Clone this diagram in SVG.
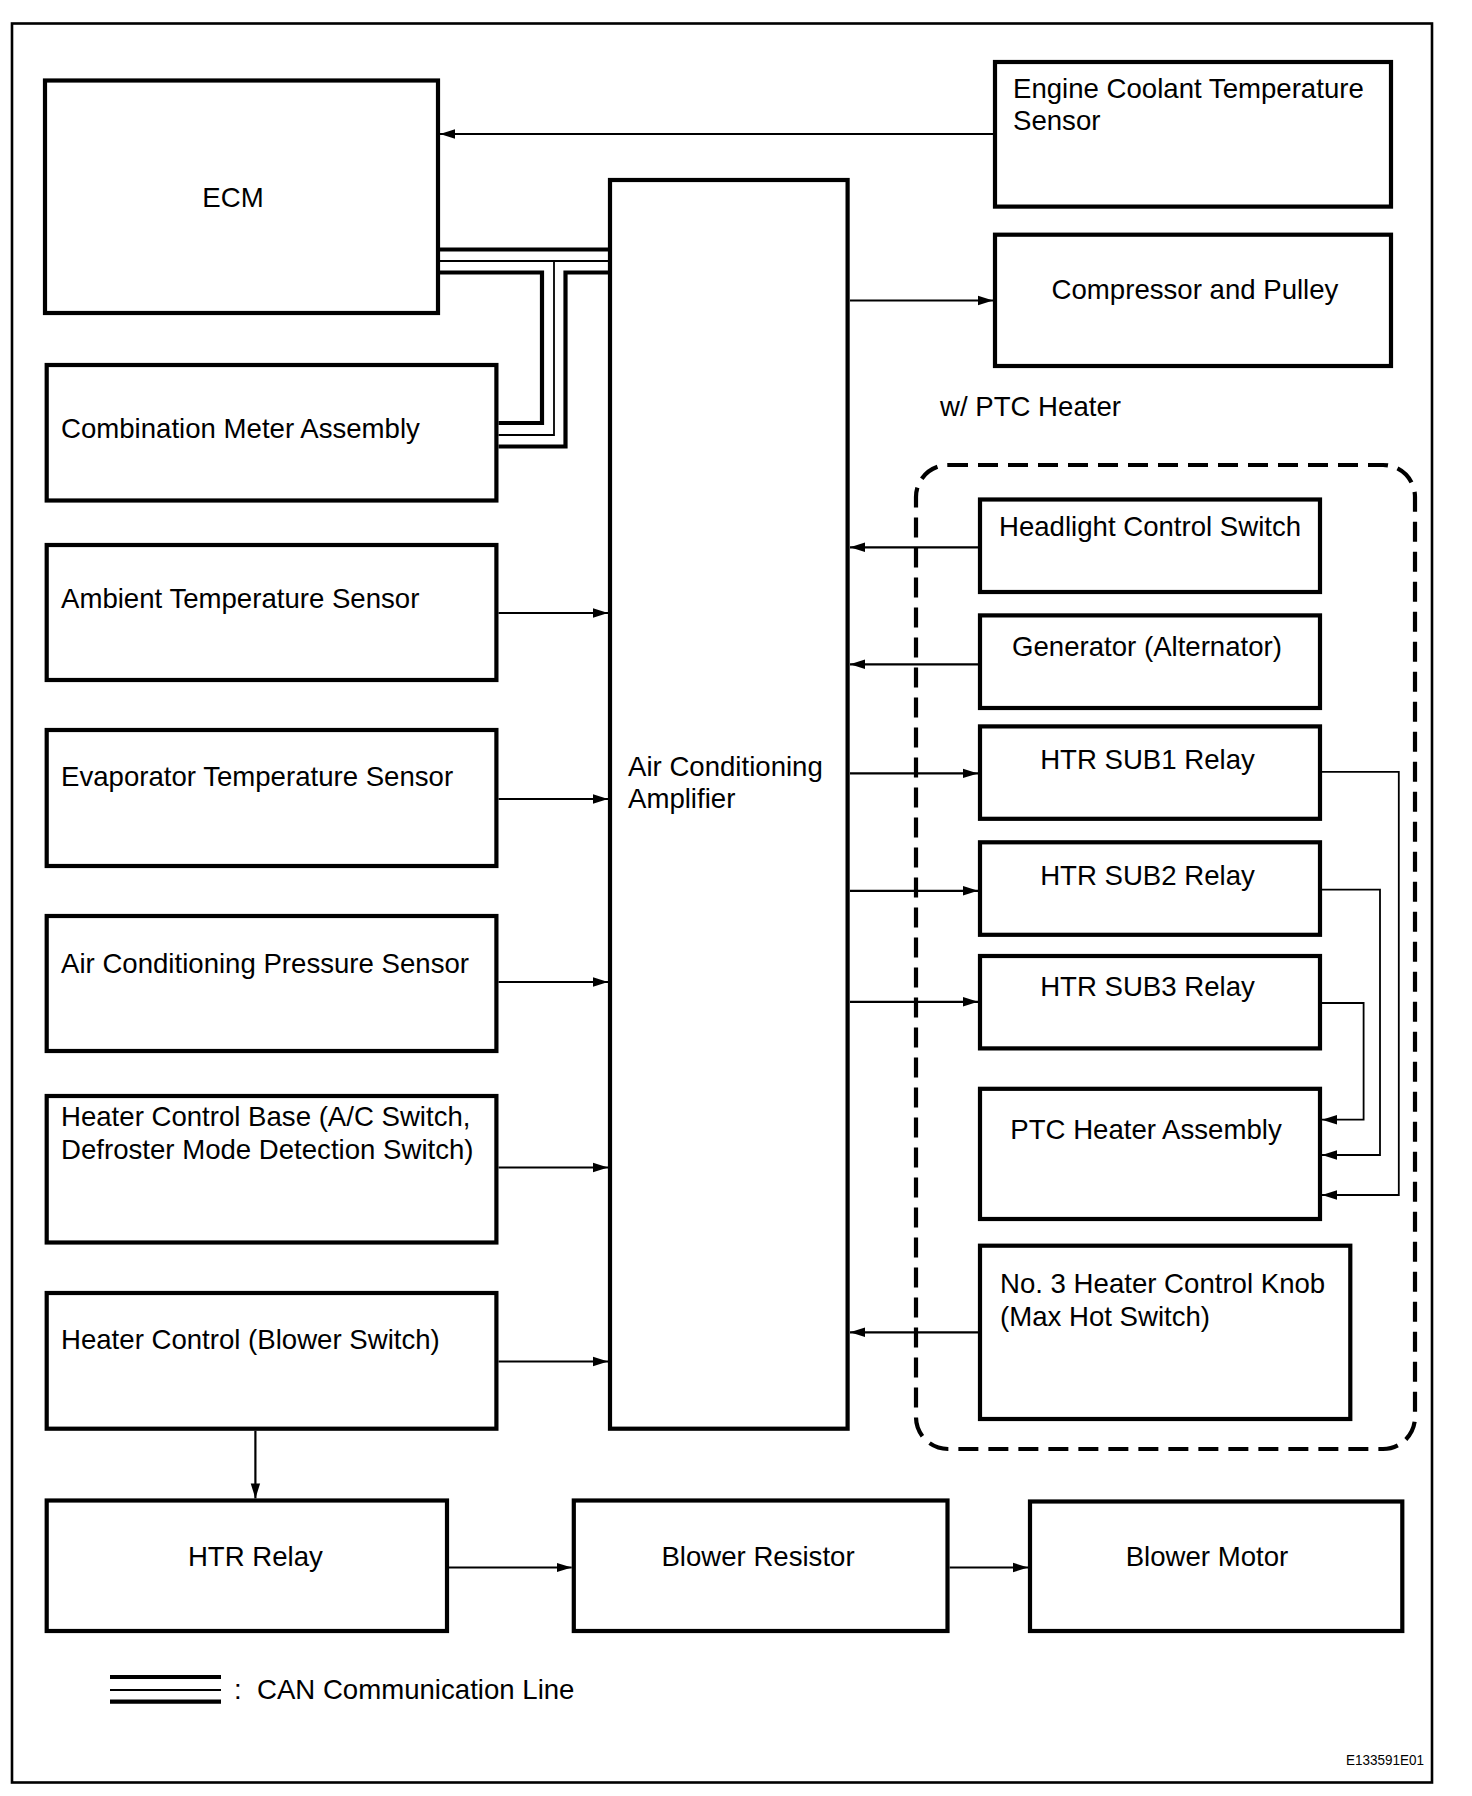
<svg xmlns="http://www.w3.org/2000/svg" width="1472" height="1796" viewBox="0 0 1472 1796">
<defs>
<marker id="arr" markerUnits="userSpaceOnUse" markerWidth="16" markerHeight="11" refX="15" refY="5.5" orient="auto">
<path d="M0,0.8 L15,5.5 L0,10.2 z" fill="#000"/>
</marker>
</defs>
<style>
.box{fill:#fff;stroke:#000;stroke-width:4.2}
.t{font-family:"Liberation Sans",Arial,sans-serif;font-size:27.6px;fill:#000}
.c{text-anchor:middle}
.ln{fill:none;stroke:#000;stroke-width:2.2}
.thin{fill:none;stroke:#000;stroke-width:1.8}
.canT{fill:none;stroke:#000;stroke-width:4.2}
.canM{fill:none;stroke:#000;stroke-width:1.8}
</style>
<rect x="0" y="0" width="1472" height="1796" fill="#fff"/>
<rect x="12" y="23.5" width="1420" height="1759" fill="none" stroke="#000" stroke-width="2.6"/>

<g id="ptc-group">
<rect x="916" y="465" width="499" height="984" rx="32" ry="32" fill="none" stroke="#000" stroke-width="4.2" stroke-dasharray="20,10"/>
<text class="t" x="940" y="416">w/ PTC Heater</text>
</g>

<g id="connectors">
<path class="ln" d="M993,134 H440" marker-end="url(#arr)"/>
<path class="ln" d="M850,300.5 H993" marker-end="url(#arr)"/>
<path class="ln" d="M498.5,613 H608" marker-end="url(#arr)"/>
<path class="ln" d="M498.5,799 H608" marker-end="url(#arr)"/>
<path class="ln" d="M498.5,982 H608" marker-end="url(#arr)"/>
<path class="ln" d="M498.5,1167.5 H608" marker-end="url(#arr)"/>
<path class="ln" d="M498.5,1361.5 H608" marker-end="url(#arr)"/>
<path class="ln" d="M978,547.3 H850" marker-end="url(#arr)"/>
<path class="ln" d="M978,664.3 H850" marker-end="url(#arr)"/>
<path class="ln" d="M850,773.4 H978" marker-end="url(#arr)"/>
<path class="ln" d="M850,890.8 H978" marker-end="url(#arr)"/>
<path class="ln" d="M850,1001.8 H978" marker-end="url(#arr)"/>
<path class="ln" d="M978,1332.3 H850" marker-end="url(#arr)"/>
<path class="thin" d="M1322,771.8 H1398.8 V1195 H1322" marker-end="url(#arr)"/>
<path class="thin" d="M1322,889.7 H1380 V1155 H1322" marker-end="url(#arr)"/>
<path class="thin" d="M1322,1003 H1363.6 V1119.7 H1322" marker-end="url(#arr)"/>
<path class="ln" d="M255.4,1430.7 V1498.4" marker-end="url(#arr)"/>
<path class="ln" d="M449,1567.5 H571.7" marker-end="url(#arr)"/>
<path class="ln" d="M949.6,1567.5 H1028" marker-end="url(#arr)"/>
<g id="can-lines">
<path class="canT" d="M440,249.5 H608"/>
<path class="canM" d="M440,261 H608 M554,261 V435 H498.5"/>
<path class="canT" d="M440,272.5 H542 V423 H498.5"/>
<path class="canT" d="M608,272.5 H565.5 V446.5 H498.5"/>
</g>
</g>

<g id="ecm"><rect class="box" x="45" y="80.5" width="393" height="232.5"/><text class="t c" x="233" y="207">ECM</text></g>
<g id="combination-meter"><rect class="box" x="46.7" y="365" width="449.7" height="135.5"/><text class="t" x="61" y="438">Combination Meter Assembly</text></g>
<g id="ambient"><rect class="box" x="46.7" y="545" width="449.7" height="135"/><text class="t" x="61" y="608">Ambient Temperature Sensor</text></g>
<g id="evaporator"><rect class="box" x="46.7" y="730" width="449.7" height="136"/><text class="t" x="61" y="786">Evaporator Temperature Sensor</text></g>
<g id="pressure"><rect class="box" x="46.7" y="916" width="449.7" height="135"/><text class="t" x="61" y="973">Air Conditioning Pressure Sensor</text></g>
<g id="heater-control-base"><rect class="box" x="46.7" y="1096" width="449.7" height="146.5"/><text class="t" x="61" y="1126">Heater Control Base (A/C Switch,</text><text class="t" x="61" y="1159">Defroster Mode Detection Switch)</text></g>
<g id="heater-control"><rect class="box" x="46.7" y="1293" width="449.7" height="135.7"/><text class="t" x="61" y="1349">Heater Control (Blower Switch)</text></g>
<g id="htr-relay"><rect class="box" x="46.7" y="1500.5" width="400.3" height="130.5"/><text class="t c" x="255.4" y="1565.6">HTR Relay</text></g>
<g id="blower-resistor"><rect class="box" x="573.8" y="1500.5" width="373.7" height="130.5"/><text class="t c" x="758" y="1565.6">Blower Resistor</text></g>
<g id="blower-motor"><rect class="box" x="1030" y="1501.5" width="372.3" height="129.5"/><text class="t c" x="1207" y="1565.6">Blower Motor</text></g>
<g id="ac-amplifier"><rect class="box" x="610" y="180" width="237.6" height="1248.7"/><text class="t" x="628" y="776">Air Conditioning</text><text class="t" x="628" y="808">Amplifier</text></g>
<g id="ect-sensor"><rect class="box" x="995" y="62" width="396" height="144.6"/><text class="t" x="1013" y="97.5">Engine Coolant Temperature</text><text class="t" x="1013" y="130">Sensor</text></g>
<g id="compressor"><rect class="box" x="995" y="234.7" width="396" height="131.3"/><text class="t c" x="1195" y="298.5">Compressor and Pulley</text></g>
<g id="headlight-switch"><rect class="box" x="980" y="499.5" width="340" height="92.5"/><text class="t" x="999" y="536">Headlight Control Switch</text></g>
<g id="generator"><rect class="box" x="980" y="615.4" width="340" height="92.6"/><text class="t c" x="1147" y="656">Generator (Alternator)</text></g>
<g id="htr-sub1"><rect class="box" x="980" y="726.4" width="340" height="92.4"/><text class="t c" x="1147.5" y="768.5">HTR SUB1 Relay</text></g>
<g id="htr-sub2"><rect class="box" x="980" y="842.3" width="340" height="92.5"/><text class="t c" x="1147.5" y="885">HTR SUB2 Relay</text></g>
<g id="htr-sub3"><rect class="box" x="980" y="956" width="340" height="92.4"/><text class="t c" x="1147.5" y="996">HTR SUB3 Relay</text></g>
<g id="ptc-heater"><rect class="box" x="980" y="1088.8" width="340" height="130.2"/><text class="t c" x="1146" y="1139">PTC Heater Assembly</text></g>
<g id="heater-knob"><rect class="box" x="980" y="1245.7" width="370.3" height="173.3"/><text class="t" x="1000" y="1293">No. 3 Heater Control Knob</text><text class="t" x="1000" y="1325.5">(Max Hot Switch)</text></g>

<g id="legend">
<path class="canT" d="M110,1677 H221 M110,1701.7 H221"/>
<path class="canM" d="M110,1690 H221"/>
<text class="t" x="234" y="1699">:</text>
<text class="t" x="257" y="1699">CAN Communication Line</text>
</g>
<text x="1424" y="1765" text-anchor="end" font-family="'Liberation Sans',Arial,sans-serif" font-size="14" textLength="78" lengthAdjust="spacingAndGlyphs">E133591E01</text>
</svg>
